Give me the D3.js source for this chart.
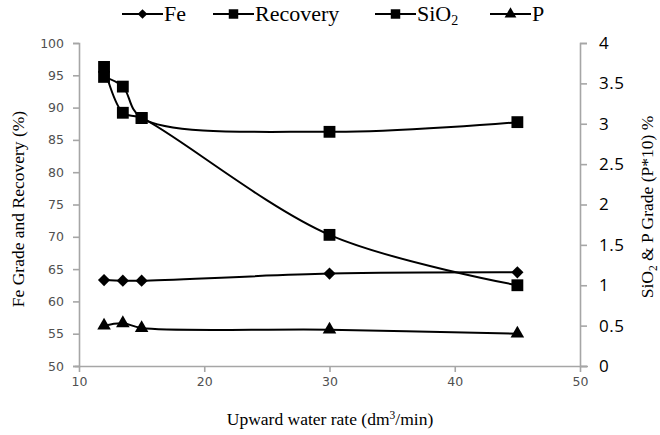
<!DOCTYPE html>
<html><head><meta charset="utf-8">
<script src="https://cdn.jsdelivr.net/npm/d3@7"></script>
<style>body{margin:0;background:#fff}svg{display:block}</style>
</head><body><svg id="c" width="660" height="435"></svg>
<script>
const xValues = [12, 13.5, 15, 30, 45];
const feGrade = [63.3, 63.2, 63.2, 64.3, 64.5];
const recovery = [96.3, 89.2, 88.4, 70.3, 62.5];
const sio2 = [3.58, 3.46, 3.07, 2.90, 3.02];
const pGrade = [0.50, 0.53, 0.47, 0.45, 0.40];
const xTicks = [10, 20, 30, 40, 50];
const leftTicks = [50, 55, 60, 65, 70, 75, 80, 85, 90, 95, 100];
const rightTicks = [0, 0.5, 1, 1.5, 2, 2.5, 3, 3.5, 4];

const SERIF = "'Liberation Serif', 'Times New Roman', serif";
const svg = d3.select("#c");
const x = d3.scaleLinear().domain([10, 50]).range([79, 580]);
const yL = d3.scaleLinear().domain([50, 100]).range([366, 43]);
const yR = d3.scaleLinear().domain([0, 4]).range([366, 43]);
const axisCol = "#a6a6a6";

const gx = svg.append("g").attr("transform", "translate(0,366)")
  .call(d3.axisBottom(x).tickValues(xTicks).tickSize(6).tickFormat(d3.format("d")));
const gl = svg.append("g").attr("transform", "translate(79,0)")
  .call(d3.axisLeft(yL).tickValues(leftTicks).tickSize(6).tickFormat(d3.format("d")));
const gr = svg.append("g").attr("transform", "translate(580,0)")
  .call(d3.axisRight(yR).tickValues(rightTicks).tickSize(7).tickFormat(d => d));
[gx, gl, gr].forEach(g => {
  g.select(".domain").attr("stroke", axisCol).attr("stroke-width", 1.6);
  g.selectAll(".tick line").attr("stroke", axisCol).attr("stroke-width", 1.6);
});
gx.select(".domain").attr("d", "M75,0.5H588");
gx.selectAll(".tick text").attr("font-family", "DejaVu Sans").attr("font-size", 12.5)
  .attr("fill", "#505050").attr("dy", "0.9em").attr("y", 9);
gl.selectAll(".tick text").attr("font-family", "DejaVu Sans").attr("font-size", 12.5)
  .attr("fill", "#505050").attr("x", -15);
gr.selectAll(".tick text").attr("font-family", "Open Sans").attr("font-size", 17)
  .attr("fill", "#000").attr("x", 19).attr("letter-spacing", 0.5);

const lineL = d3.line().x((d, i) => x(xValues[i])).y(d => yL(d)).curve(d3.curveCatmullRom.alpha(0.5));
const lineR = d3.line().x((d, i) => x(xValues[i])).y(d => yR(d)).curve(d3.curveCatmullRom.alpha(0.5));
const plot = svg.append("g");
const series = [
  {v: feGrade, line: lineL, y: yL, sym: d3.symbolDiamond2, size: 95},
  {v: recovery, line: lineL, y: yL, sym: d3.symbolSquare, size: 140},
  {v: sio2, line: lineR, y: yR, sym: d3.symbolSquare, size: 140},
  {v: pGrade, line: lineR, y: yR, sym: d3.symbolTriangle, size: 80}
];
series.forEach(s => {
  plot.append("path").attr("d", s.line(s.v)).attr("fill", "none").attr("stroke", "#000").attr("stroke-width", 2);
});
series.forEach(s => {
  plot.selectAll(null).data(s.v).enter().append("path")
    .attr("d", d3.symbol().type(s.sym).size(s.size))
    .attr("transform", (d, i) => `translate(${x(xValues[i])},${s.y(d)})`)
    .attr("fill", "#000");
});

const legendItems = [
  {label: "Fe", sym: d3.symbolDiamond2, size: 60, x: 122},
  {label: "Recovery", sym: d3.symbolSquare, size: 90, x: 213},
  {label: "SiO", sub: "2", sym: d3.symbolSquare, size: 90, x: 375},
  {label: "P", sym: d3.symbolTriangle, size: 60, x: 490}
];
const lg = svg.append("g");
legendItems.forEach(it => {
  lg.append("line").attr("x1", it.x).attr("x2", it.x + 41).attr("y1", 14).attr("y2", 14)
    .attr("stroke", "#000").attr("stroke-width", 2.2);
  lg.append("path").attr("d", d3.symbol().type(it.sym).size(it.size)())
    .attr("transform", `translate(${it.x + 20.5},14)`).attr("fill", "#000");
  const t = lg.append("text").attr("x", it.x + 42).attr("y", 21).style("font-family", SERIF)
    .attr("font-size", 22).attr("fill", "#000").text(it.label);
  if (it.sub) t.append("tspan").attr("font-size", 14).attr("dy", 4).text(it.sub);
});

svg.append("text").attr("transform", "translate(24,209) rotate(-90)").attr("text-anchor", "middle")
  .style("font-family", SERIF).attr("font-size", 17.5).attr("fill", "#000")
  .text("Fe Grade and Recovery (%)");
const rt = svg.append("text").attr("transform", "translate(653,207) rotate(-90)").attr("text-anchor", "middle")
  .style("font-family", SERIF).attr("font-size", 17.5).attr("fill", "#000");
rt.append("tspan").text("SiO");
rt.append("tspan").attr("font-size", 11.5).attr("dy", 4).text("2");
rt.append("tspan").attr("dy", -4).text(" & P Grade (P*10) %");
const xt = svg.append("text").attr("x", 330).attr("y", 425).attr("text-anchor", "middle")
  .style("font-family", SERIF).attr("font-size", 17.5).attr("fill", "#000");
xt.append("tspan").text("Upward water rate (dm");
xt.append("tspan").attr("font-size", 11.5).attr("dy", -6).text("3");
xt.append("tspan").attr("dy", 6).text("/min)");
</script></body></html>
